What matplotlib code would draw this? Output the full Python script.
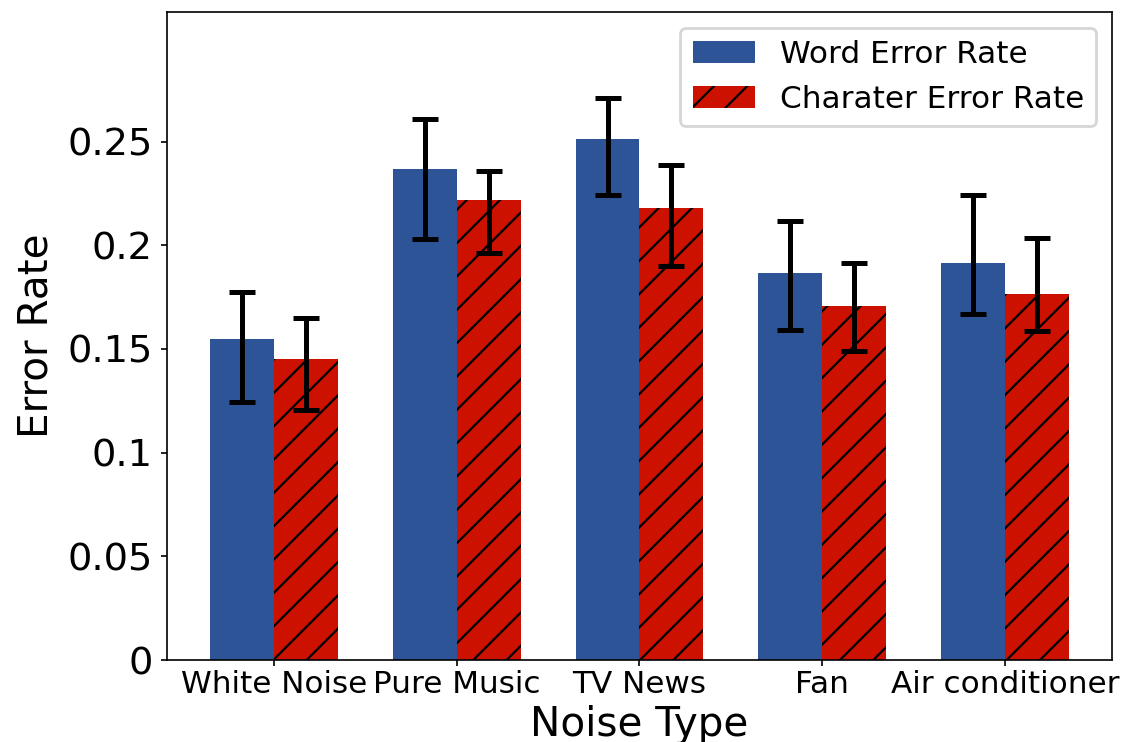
import numpy as np
import matplotlib
matplotlib.use("Agg")
import matplotlib.pyplot as plt

noise_types = ["White Noise", "Pure Music", "TV News", "Fan", "Air conditioner"]

# mean error rates
wer = [0.155, 0.237, 0.2515, 0.1865, 0.1915]
cer = [0.145, 0.222, 0.218, 0.1706, 0.1767]

# lower / upper ends of the error bars
wer_lo = [0.1245, 0.203, 0.2243, 0.159, 0.1668]
wer_hi = [0.1773, 0.2609, 0.271, 0.2118, 0.2244]
cer_lo = [0.1207, 0.1962, 0.190, 0.1488, 0.1589]
cer_hi = [0.165, 0.236, 0.2389, 0.1915, 0.2034]

yticks = [0, 0.05, 0.1, 0.15, 0.2, 0.25]
ytick_labels = ["0", "0.05", "0.1", "0.15", "0.2", "0.25"]

wer = np.array(wer)
cer = np.array(cer)
wer_err = [wer - np.array(wer_lo), np.array(wer_hi) - wer]
cer_err = [cer - np.array(cer_lo), np.array(cer_hi) - cer]

x = np.arange(len(noise_types))
width = 0.35

plt.rcParams["hatch.linewidth"] = 0.8

fig, ax = plt.subplots(figsize=(1123 / 200, 742 / 200), dpi=200)
fig.subplots_adjust(left=0.1487, right=0.9902, top=0.9838, bottom=0.1105)

err_kw = dict(elinewidth=1.8, capsize=4.6, capthick=1.8, ecolor="black")
ax.bar(x - width / 2, wer, width, yerr=wer_err, color="#2D5497",
       error_kw=err_kw, label="Word Error Rate")
ax.bar(x + width / 2, cer, width, yerr=cer_err, facecolor="#CC1100",
       hatch="//", error_kw=err_kw, label="Charater Error Rate")

ax.set_xticks(x)
ax.set_xticklabels(noise_types, fontsize=11.2)
ax.set_yticks(yticks)
ax.set_yticklabels(ytick_labels, fontsize=13.8)
ax.set_ylim(0, 0.3125)
ax.tick_params(axis="x", length=2, width=0.6, pad=1.5)
ax.tick_params(axis="y", length=2, width=0.6, pad=3.2)
for s in ax.spines.values():
    s.set_linewidth(0.6)

ax.set_xlabel("Noise Type", fontsize=14.6, labelpad=2.2)
ax.set_ylabel("Error Rate", fontsize=14.6)
ax.legend(loc="upper right", fontsize=11.2)

fig.savefig("out.png", dpi=200)
